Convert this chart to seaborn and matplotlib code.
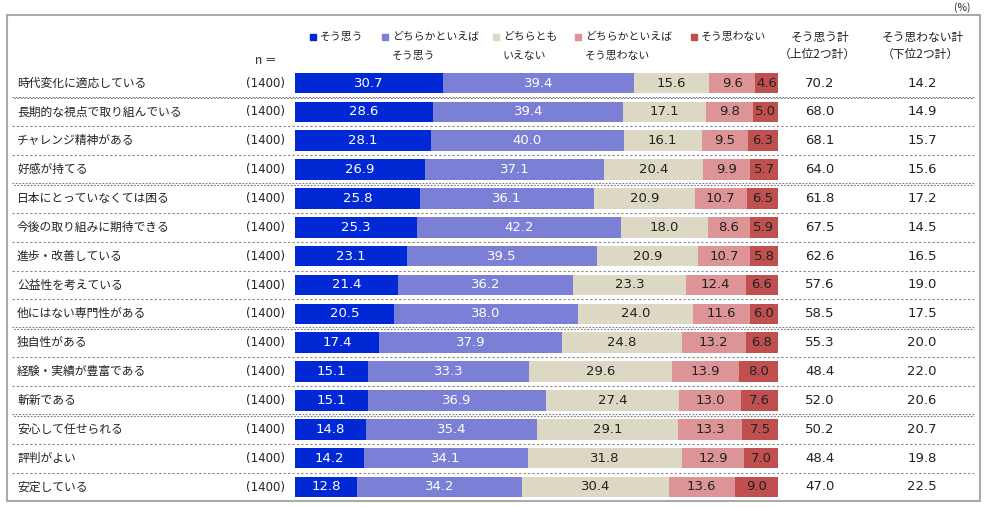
import matplotlib
matplotlib.use("Agg")
import matplotlib.pyplot as plt
import matplotlib.transforms as mtransforms
from matplotlib.patches import Rectangle
import numpy as np
import seaborn as sns

# items, top to bottom
labels = ["時代変化に適応している", "長期的な視点で取り組んでいる", "チャレンジ精神がある",
          "好感が持てる", "日本にとっていなくては困る", "今後の取り組みに期待できる",
          "進歩・改善している", "公益性を考えている", "他にはない専門性がある",
          "独自性がある", "経験・実績が豊富である", "斬新である",
          "安心して任せられる", "評判がよい", "安定している"]
n_values = [1400] * 15

agree = [30.7, 28.6, 28.1, 26.9, 25.8, 25.3, 23.1, 21.4, 20.5, 17.4, 15.1, 15.1, 14.8, 14.2, 12.8]
rather_agree = [39.4, 39.4, 40.0, 37.1, 36.1, 42.2, 39.5, 36.2, 38.0, 37.9, 33.3, 36.9, 35.4, 34.1, 34.2]
neutral = [15.6, 17.1, 16.1, 20.4, 20.9, 18.0, 20.9, 23.3, 24.0, 24.8, 29.6, 27.4, 29.1, 31.8, 30.4]
rather_disagree = [9.6, 9.8, 9.5, 9.9, 10.7, 8.6, 10.7, 12.4, 11.6, 13.2, 13.9, 13.0, 13.3, 12.9, 13.6]
disagree = [4.6, 5.0, 6.3, 5.7, 6.5, 5.9, 5.8, 6.6, 6.0, 6.8, 8.0, 7.6, 7.5, 7.0, 9.0]

top2 = [70.2, 68.0, 68.1, 64.0, 61.8, 67.5, 62.6, 57.6, 58.5, 55.3, 48.4, 52.0, 50.2, 48.4, 47.0]
bottom2 = [14.2, 14.9, 15.7, 15.6, 17.2, 14.5, 16.5, 19.0, 17.5, 20.0, 22.0, 20.6, 20.7, 19.8, 22.5]

legend_labels = ["そう思う", "どちらかといえば\nそう思う", "どちらとも\nいえない",
                 "どちらかといえば\nそう思わない", "そう思わない"]
colors = ["#0028d4", "#7b80d6", "#dcd8c4", "#dc9496", "#c05050"]
text_colors = ["white", "white", "#222222", "#222222", "#222222"]
heavy_after = [0, 3, 8, 11]  # rows followed by a heavier separator

sns.set_style("white")
plt.rcParams['font.family'] = ['Noto Sans CJK JP', 'DejaVu Sans']
num_font = ['DejaVu Sans']

W, H = 986, 507
fig = plt.figure(figsize=(W / 100, H / 100), dpi=100)

def fx(px):
    return px / W

def fy(py):
    return 1 - py / H

# bar axes: x 0-100 from px 295 to 778, rows centred at 83 ... 487
row_top, row_bot = 83, 487
step = (row_bot - row_top) / (len(labels) - 1)
ax = fig.add_axes([fx(295), fy(row_bot + step / 2), fx(778) - fx(295),
                   (row_bot - row_top + step) / H])

series = np.array([agree, rather_agree, neutral, rather_disagree, disagree])
cum = np.cumsum(series, axis=0)

# draw cumulative layers, longest first so shorter ones sit on top
for k in range(4, -1, -1):
    sns.barplot(x=cum[k], y=labels, order=labels, orient="h", color=colors[k],
                saturation=1, width=0.71, linewidth=0, ax=ax)

for k in range(5):
    for i in range(len(labels)):
        xc = cum[k][i] - series[k][i] / 2
        ax.text(xc, i, f"{series[k][i]:.1f}", ha="center", va="center",
                color=text_colors[k], fontsize=9.5, family=num_font)

ax.set_xlim(0, 100)
ax.set_ylim(len(labels) - 0.5, -0.5)
ax.set_xlabel("")
ax.set_ylabel("")
ax.set_xticks([])
ax.set_yticks([])
sns.despine(ax=ax, left=True, bottom=True)

# row texts and separators across the whole width
trans = mtransforms.blended_transform_factory(fig.transFigure, ax.transData)
for i, lab in enumerate(labels):
    ax.text(fx(17), i, lab, transform=trans, ha="left", va="center", fontsize=8.5, color="#222222")
    ax.text(fx(285), i, f"({n_values[i]})", transform=trans, ha="right", va="center",
            fontsize=8.5, color="#222222", family=num_font)
    ax.text(fx(820), i, f"{top2[i]:.1f}", transform=trans, ha="center", va="center",
            fontsize=9.5, color="#222222", family=num_font)
    ax.text(fx(922), i, f"{bottom2[i]:.1f}", transform=trans, ha="center", va="center",
            fontsize=9.5, color="#222222", family=num_font)

for i in range(len(labels) - 1):
    y = i + 0.5
    if i in heavy_after:
        ax.plot([fx(12), fx(974)], [y - 0.03, y - 0.03], transform=trans, color="#777777",
                lw=0.8, ls=(0, (1.5, 1.5)), clip_on=False)
        ax.plot([fx(12), fx(974)], [y + 0.03, y + 0.03], transform=trans, color="#777777",
                lw=0.8, ls=(1.5, (1.5, 1.5)), clip_on=False)
    else:
        ax.plot([fx(12), fx(974)], [y, y], transform=trans, color="#888888",
                lw=0.8, ls=(0, (2, 2)), clip_on=False)

# header
fig.text(fx(266), fy(61), "n ＝", ha="center", va="center", fontsize=8.5, color="#222222")
fig.text(fx(820), fy(37), "そう思う計", ha="center", va="center", fontsize=8.5, color="#222222")
fig.text(fx(817), fy(54), "（上位2つ計）", ha="center", va="center", fontsize=8.5, color="#222222")
fig.text(fx(923), fy(37), "そう思わない計", ha="center", va="center", fontsize=8.5, color="#222222")
fig.text(fx(920), fy(54), "（下位2つ計）", ha="center", va="center", fontsize=8.5, color="#222222")
fig.text(fx(962), fy(8), "(%)", ha="center", va="center", fontsize=7.5, color="#222222")

# legend
legend_x = [313, 385, 496, 578, 694]
for k, lab in enumerate(legend_labels):
    fig.patches.append(Rectangle((fx(legend_x[k] - 3), fy(40)), fx(6), 6 / H,
                                 transform=fig.transFigure, color=colors[k]))
    fig.text(fx(legend_x[k] + 7), fy(32), lab, ha="left", va="top", fontsize=7.8,
             color="#222222", linespacing=2.1)

# outer frame
fig.patches.append(Rectangle((fx(7), fy(501)), fx(973), (501 - 15) / H,
                             transform=fig.transFigure, fill=False, edgecolor="#aaaaaa", lw=1.5))

fig.savefig("out.png", dpi=100)
